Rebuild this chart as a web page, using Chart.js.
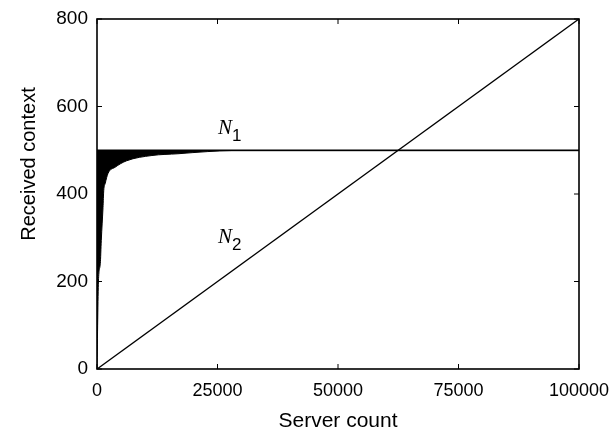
<!DOCTYPE html>
<html>
<head>
<meta charset="utf-8">
<script src="https://cdn.jsdelivr.net/npm/chart.js@4.4.1/dist/chart.umd.min.js"></script>
<style>
  html, body { margin: 0; padding: 0; background: #fff; }
  #wrap { width: 610px; height: 441px; position: relative; }
</style>
</head>
<body>
<div id="wrap"><canvas id="g-chart"></canvas></div>
<script>
;(function() {
  // tick labels
  const xTicks = [0, 25000, 50000, 75000, 100000];
  const yTicks = [0, 200, 400, 600, 800];

  // N1: lower edge of the black band and the flat upper edge
  const n1LowX = [0, 300, 685, 890, 1245, 1400, 1700, 2280, 3730, 6160, 11400, 16800, 23000, 28000, 100000];
  const n1LowY = [0, 200, 241, 294, 369, 408, 424, 447, 461, 476, 488, 492, 497, 499, 499];
  const n1HighX = [0, 100000];
  const n1HighY = [500, 500];

  // N2: straight line
  const n2X = [0, 100000];
  const n2Y = [0, 800];

  const toPts = (xs, ys) => xs.map((x, i) => ({ x: x, y: ys[i] }));

  const font = '"Liberation Sans", Arial, Helvetica, sans-serif';

  // frame, inward ticks, curve labels and axis titles
  const decor = {
    id: 'decor',
    afterDraw(chart) {
      const { ctx, chartArea: a, scales: { x, y } } = chart;
      ctx.save();
      ctx.strokeStyle = '#000';
      ctx.lineWidth = 1.6;
      ctx.strokeRect(a.left, a.top, a.right - a.left, a.bottom - a.top);

      ctx.lineWidth = 1;
      const tl = 5;
      xTicks.forEach(v => {
        const px = x.getPixelForValue(v);
        ctx.beginPath();
        ctx.moveTo(px, a.bottom); ctx.lineTo(px, a.bottom - tl);
        ctx.moveTo(px, a.top); ctx.lineTo(px, a.top + tl);
        ctx.stroke();
      });
      yTicks.forEach(v => {
        const py = y.getPixelForValue(v);
        ctx.beginPath();
        ctx.moveTo(a.left, py); ctx.lineTo(a.left + tl, py);
        ctx.moveTo(a.right, py); ctx.lineTo(a.right - tl, py);
        ctx.stroke();
      });

      // curve labels
      ctx.fillStyle = '#000';
      ctx.textBaseline = 'alphabetic';
      ctx.textAlign = 'left';
      const drawN = (sub, xv, yv) => {
        const px = x.getPixelForValue(xv);
        const py = y.getPixelForValue(yv);
        ctx.font = 'italic 21px "Liberation Serif", "Times New Roman", serif';
        ctx.fillText('N', px, py);
        const w = ctx.measureText('N').width;
        ctx.font = '17px ' + font;
        ctx.fillText(sub, px + w, py + 7);
      };
      drawN('1', 25100, 538);
      drawN('2', 25100, 289);

      // axis titles
      ctx.textAlign = 'center';
      ctx.font = '21px ' + font;
      ctx.fillText('Server count', 338, 427);
      ctx.save();
      ctx.translate(35, 164);
      ctx.rotate(-Math.PI / 2);
      ctx.font = '20px ' + font;
      ctx.fillText('Received context', 0, 0);
      ctx.restore();

      ctx.restore();
    }
  };

  const ctx = document.getElementById('g-chart').getContext('2d');

  new Chart(ctx, {
    type: 'line',
    data: {
      datasets: [
        {
          label: 'N1 upper',
          data: toPts(n1HighX, n1HighY),
          borderColor: '#000',
          borderWidth: 1.6,
          pointRadius: 0,
          fill: false,
        },
        {
          label: 'N1',
          data: toPts(n1LowX, n1LowY),
          borderColor: '#000',
          backgroundColor: '#000',
          borderWidth: 1,
          pointRadius: 0,
          cubicInterpolationMode: 'monotone',
          fill: '-1',
        },
        {
          label: 'N2',
          data: toPts(n2X, n2Y),
          borderColor: '#000',
          borderWidth: 1.4,
          pointRadius: 0,
          fill: false,
        },
      ]
    },
    options: {
      responsive: true,
      maintainAspectRatio: false,
      animation: false,
      layout: { padding: { top: 19, right: 0, left: 0, bottom: 0 } },
      plugins: {
        legend: { display: false },
        tooltip: { enabled: false },
      },
      scales: {
        x: {
          type: 'linear',
          min: 0,
          max: 100000,
          afterBuildTicks: s => { s.ticks = xTicks.map(v => ({ value: v })); },
          afterFit: s => {
            s.height = 72;
            s.paddingLeft = 0;
            s.paddingRight = 31;
          },
          grid: { display: false, drawTicks: false },
          border: { display: false },
          ticks: {
            color: '#000',
            padding: 11,
            maxRotation: 0,
            font: { family: font, size: 18 },
            callback: v => String(v),
          },
        },
        y: {
          min: 0,
          max: 800,
          afterBuildTicks: s => { s.ticks = yTicks.map(v => ({ value: v })); },
          afterFit: s => {
            s.width = 97;
            s.paddingTop = 0;
            s.paddingBottom = 0;
          },
          grid: { display: false, drawTicks: false },
          border: { display: false },
          ticks: {
            color: '#000',
            padding: 9,
            font: { family: font, size: 19 },
            callback: v => String(v),
          },
        },
      },
    },
    plugins: [decor],
  });
})();
</script>
</body>
</html>
